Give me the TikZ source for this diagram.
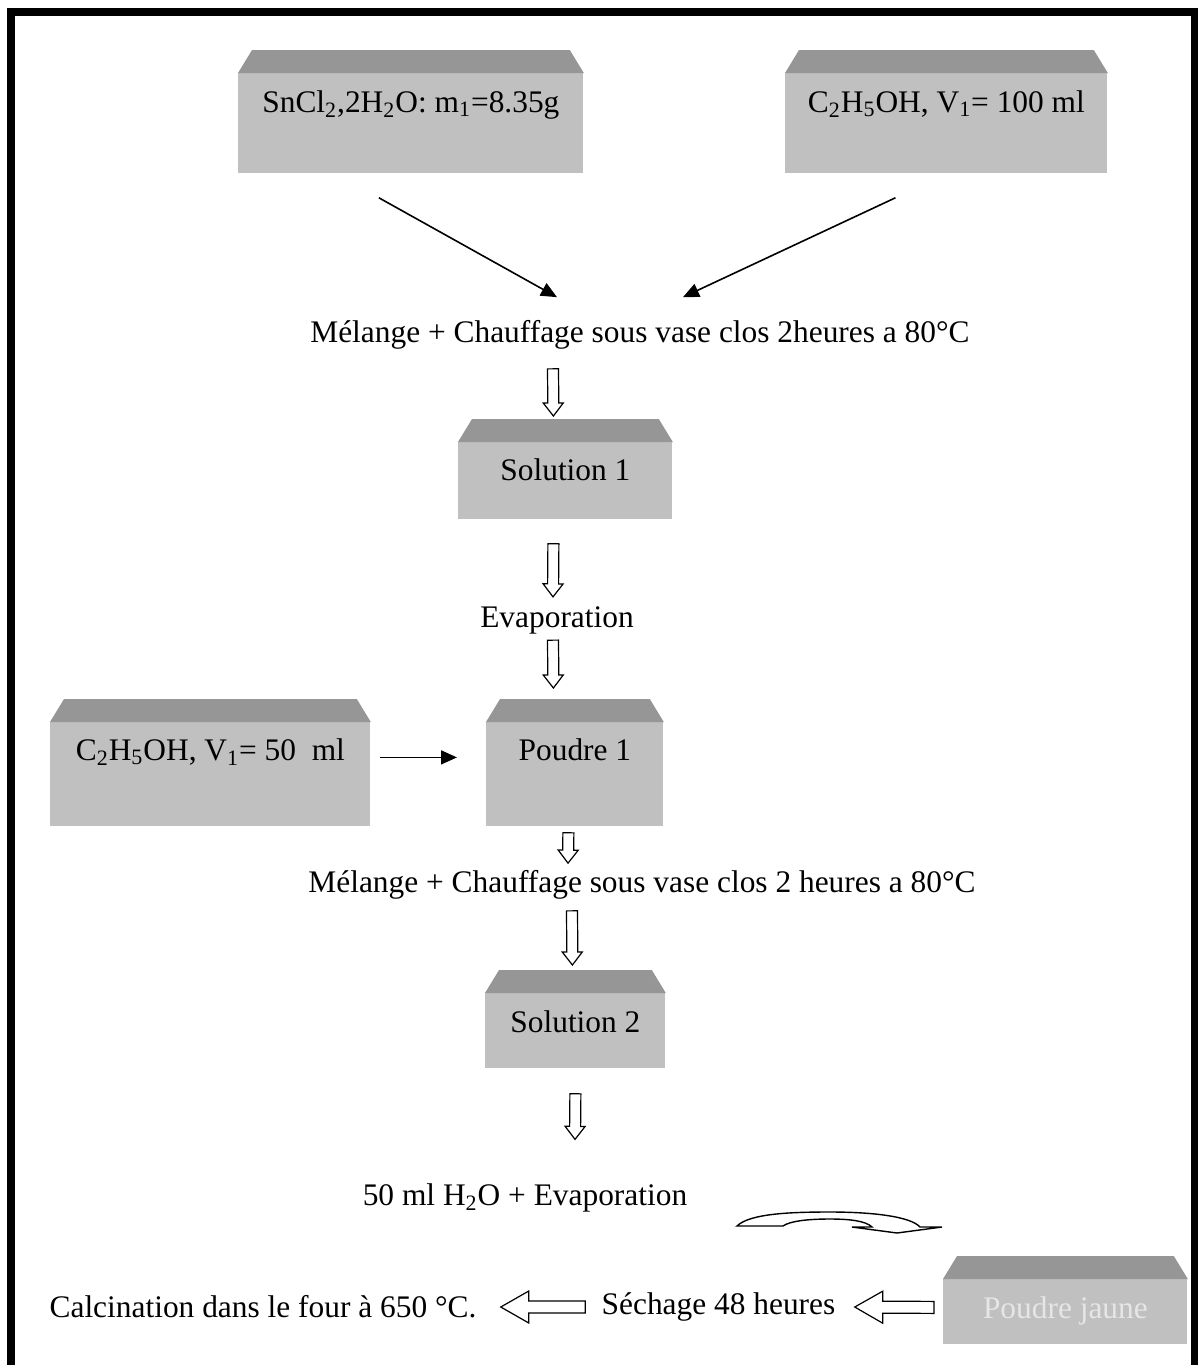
\documentclass[tikz,border=0pt]{standalone}
\usepackage{fontspec}
\setmainfont{Liberation Serif}
\usetikzlibrary{calc}
\usetikzlibrary{arrows.meta}
\usetikzlibrary{positioning}

\definecolor{boxgray}{HTML}{C0C0C0}
\definecolor{topgray}{HTML}{969696}
\definecolor{paletxt}{HTML}{E6E6E6}

\begin{document}
\begin{tikzpicture}
  [
    x=0.5pt, y=-0.5pt,
    >={Triangle[length=8pt,width=7pt]},
    every node/.style = {font=\fontsize{15.7}{18}\selectfont, inner sep=0pt},
    box/.style n args = {3}{fill=boxgray, minimum width=#1, text height=#2, text depth=#3, anchor=north west},
    boxtop/.style = {fill=topgray},
    fat/.style n args = {3}{draw, fill=white, line width=0.6pt, to path={
      ($(\tikztostart)!#1!90:(\tikztotarget)$)
      -- ($(\tikztotarget)!#3!(\tikztostart)!#1!90:(\tikztotarget)$)
      -- ($(\tikztotarget)!#3!(\tikztostart)!#2!90:(\tikztotarget)$)
      -- (\tikztotarget)
      -- ($(\tikztotarget)!#3!(\tikztostart)!#2!-90:(\tikztotarget)$)
      -- ($(\tikztotarget)!#3!(\tikztostart)!#1!-90:(\tikztotarget)$)
      -- ($(\tikztostart)!#1!-90:(\tikztotarget)$) -- cycle}},
    fatv/.style = {fat={2.75pt}{5pt}{6.5pt}},
    fath/.style = {fat={3pt}{8pt}{14pt}},
  ]

  \useasboundingbox (0,0) rectangle (1198,1365);

  % frame
  \draw[line width=4pt] (11,1375) -- (11,12) -- (1195,12) -- (1195,1375);

  % starting products
  \node (sncl) at (238,73) [box={172.5pt}{19.5pt}{30.5pt}] {SnCl\textsubscript{2},2H\textsubscript{2}O: m\textsubscript{1}=8.35g};
  \node (eth1) at (785,73) [box={161pt}{19.5pt}{30.5pt}] {C\textsubscript{2}H\textsubscript{5}OH, V\textsubscript{1}= 100 ml};

  \node (mel1) at (640,335) {Mélange + Chauffage sous vase clos 2heures a 80°C};
  \node (sol1) at (458,442) [box={107pt}{19pt}{19.5pt}] {Solution 1};
  \node (evap) at (557,620) {Evaporation};

  \node (eth2) at (50,722) [box={160pt}{19pt}{33pt}] {C\textsubscript{2}H\textsubscript{5}OH, V\textsubscript{1}= 50\ \ ml};
  \node (pdr1) at (486,722) [box={88.5pt}{19pt}{33pt}] {Poudre 1};

  \node (mel2) at (642,885) {Mélange + Chauffage sous vase clos 2 heures a 80°C};
  \node (sol2) at (485,993) [box={90pt}{19.5pt}{18pt}] {Solution 2};
  \node (eauevap) at (525,1198) {50 ml H\textsubscript{2}O + Evaporation};

  \node (jaune) at (943,1279) [box={122pt}{19.5pt}{13pt}, text=paletxt] {Poudre jaune};
  \node (sechage) at (718.5,1307) {Séchage 48 heures};
  \node (calc) at (263,1307) {Calcination dans le four à 650 °C.};

  % box roofs
  \foreach \b in {sncl,eth1,sol1,eth2,pdr1,sol2,jaune}
    \fill[boxtop] (\b.north west) -- ([shift={(7pt,11.5pt)}]\b.north west)
      -- ([shift={(-7pt,11.5pt)}]\b.north east) -- (\b.north east) -- cycle;

  % thin arrows
  \draw[->, line width=0.8pt] ([xshift=-16pt,yshift=-12pt]sncl.south) -- ([xshift=-41.5pt,yshift=11.5pt]mel1.north);
  \draw[->, line width=0.8pt] ([xshift=-25.5pt,yshift=-12pt]eth1.south) -- ([xshift=21.5pt,yshift=11.5pt]mel1.north);
  \draw[->, line width=0.8pt] ([xshift=4.5pt,yshift=1.5pt]eth2.base east) -- ([xshift=-14.5pt,yshift=1.5pt]pdr1.base west);

  % hollow arrows
  \draw[fatv] ([xshift=-43.5pt,yshift=-9.5pt]mel1.south) to ([xshift=-6pt,yshift=13pt]sol1.north);
  \draw[fatv] ([xshift=-6pt,yshift=-12pt]sol1.south) to ([xshift=-2pt,yshift=4.5pt]evap.north);
  \draw[fatv] ([xshift=-2pt,yshift=-3pt]evap.south) to ([xshift=-10.75pt,yshift=17pt]pdr1.north);
  \draw[fatv] ([xshift=-3.25pt,yshift=-3pt]pdr1.south) to ([xshift=-37pt,yshift=3.5pt]mel2.north);
  \draw[fatv] ([xshift=-35pt,yshift=-5.5pt]mel2.south) to ([xshift=-1.5pt,yshift=14pt]sol2.north);
  \draw[fatv] ([yshift=-12.5pt]sol2.south) to ([xshift=25pt,yshift=22pt]eauevap.north);

  \draw[fath] ([xshift=-4.5pt,yshift=2.25pt]jaune.west) to ([xshift=9.5pt]sechage.east);
  \draw[fath] ([xshift=-8pt]sechage.west) to ([xshift=12pt]calc.east);

  % curved arrow
  \draw[line width=0.7pt, fill=white]
    (737,1226) .. controls (750,1213) and (795,1212) .. (830,1212)
    .. controls (870,1212) and (910,1216) .. (920,1227)
    -- (942,1227) -- (897,1233) -- (852,1227) -- (872,1227)
    .. controls (866,1221) and (850,1219) .. (830,1219)
    .. controls (808,1219) and (790,1221) .. (783,1226) -- cycle;

\end{tikzpicture}
\end{document}
